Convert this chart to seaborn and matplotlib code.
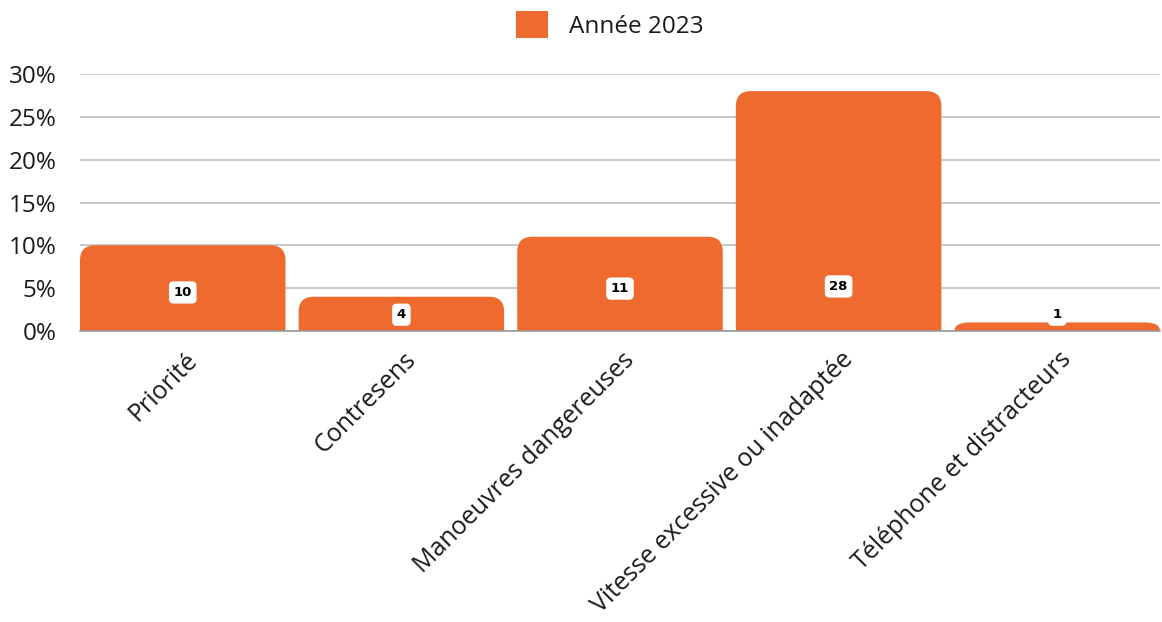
import matplotlib
matplotlib.use("Agg")
import matplotlib.pyplot as plt
import seaborn as sns
import pandas as pd
from matplotlib.path import Path
from matplotlib.patches import PathPatch, Patch
from matplotlib.transforms import ScaledTranslation

categories = ["Priorité", "Contresens", "Manoeuvres dangereuses",
              "Vitesse excessive ou inadaptée", "Téléphone et distracteurs"]
values = [10, 4, 11, 28, 1]
series_name = "Année 2023"
yticks = [0, 5, 10, 15, 20, 25, 30]
ytick_labels = ["0%", "5%", "10%", "15%", "20%", "25%", "30%"]

COLOR = "#EE6A2F"
FONT = ["Open Sans", "DejaVu Sans"]

sns.set_theme(style="white")
plt.rcParams["font.family"] = FONT

df = pd.DataFrame({"cat": categories, "val": values})

W, H, DPI = 1162, 622, 100
fig = plt.figure(figsize=(W / DPI, H / DPI), dpi=DPI)
ax = fig.add_axes([80 / W, (H - 331) / H, 1080 / W, 257 / H])

sns.barplot(data=df, x="cat", y="val", color=COLOR, width=0.94, ax=ax,
            saturation=1, zorder=3)
ax.set_xlim(-0.47, len(categories) - 0.53)
ax.set_ylim(0, 30)
ax.set_yticks(yticks)
ax.set_yticklabels(ytick_labels, fontsize=17.5, color="#1a1a1a")
ax.tick_params(axis="y", length=0, pad=17)
ax.tick_params(axis="x", length=0, pad=6)
ax.set_xlabel("")
ax.set_ylabel("")
for s in ["top", "right", "left"]:
    ax.spines[s].set_visible(False)
ax.spines["bottom"].set_color("#9a9a9a")
ax.spines["bottom"].set_linewidth(1.2)
ax.spines["bottom"].set_zorder(4)
ax.yaxis.grid(True, color="#c8c8c8", linewidth=1.4, zorder=0)
ax.set_axisbelow(True)

ax.set_xticks(range(len(categories)))
ax.set_xticklabels(categories, rotation=45, ha="right", va="top",
                   rotation_mode="anchor", fontsize=18, color="#1a1a1a")
for lbl in ax.get_xticklabels():
    lbl.set_transform(lbl.get_transform() + ScaledTranslation(0.02, -0.08, fig.dpi_scale_trans))

# rounded top corners
fig.canvas.draw()
px_per_x = ax.transData.transform((1, 0))[0] - ax.transData.transform((0, 0))[0]
px_per_y = ax.transData.transform((0, 1))[1] - ax.transData.transform((0, 0))[1]
r_px = 15
for p in list(ax.patches):
    x0, y0 = p.get_x(), p.get_y()
    w, h = p.get_width(), p.get_height()
    rx = r_px / px_per_x
    ry = min(r_px / px_per_y, h)
    x1, y1 = x0 + w, y0 + h
    verts = [(x0, y0), (x0, y1 - ry), (x0, y1), (x0 + rx, y1),
             (x1 - rx, y1), (x1, y1), (x1, y1 - ry), (x1, y0), (x0, y0)]
    codes = [Path.MOVETO, Path.LINETO, Path.CURVE3, Path.CURVE3,
             Path.LINETO, Path.CURVE3, Path.CURVE3, Path.LINETO, Path.CLOSEPOLY]
    pp = PathPatch(Path(verts, codes), facecolor=COLOR, edgecolor="none", zorder=3)
    p.set_visible(False)
    ax.add_patch(pp)

# value labels
for i, v in enumerate(values):
    ly = min(max(v * 0.45, 1.9), 5.2)
    ax.text(i, ly, str(v), ha="center", va="center", fontsize=9.5,
            fontweight="bold", color="black", zorder=6,
            family=["DejaVu Sans"],
            bbox=dict(boxstyle="round,pad=0.35,rounding_size=0.35",
                      facecolor="white", edgecolor="none"))

handle = Patch(facecolor=COLOR, edgecolor="none")
fig.legend([handle], [series_name], loc="upper center",
           bbox_to_anchor=(0.525, 1.017), frameon=False, fontsize=17.5,
           handlelength=1.3, handleheight=1.3, handletextpad=0.9,
           labelcolor="#1a1a1a")

fig.savefig("out.png", dpi=DPI)
